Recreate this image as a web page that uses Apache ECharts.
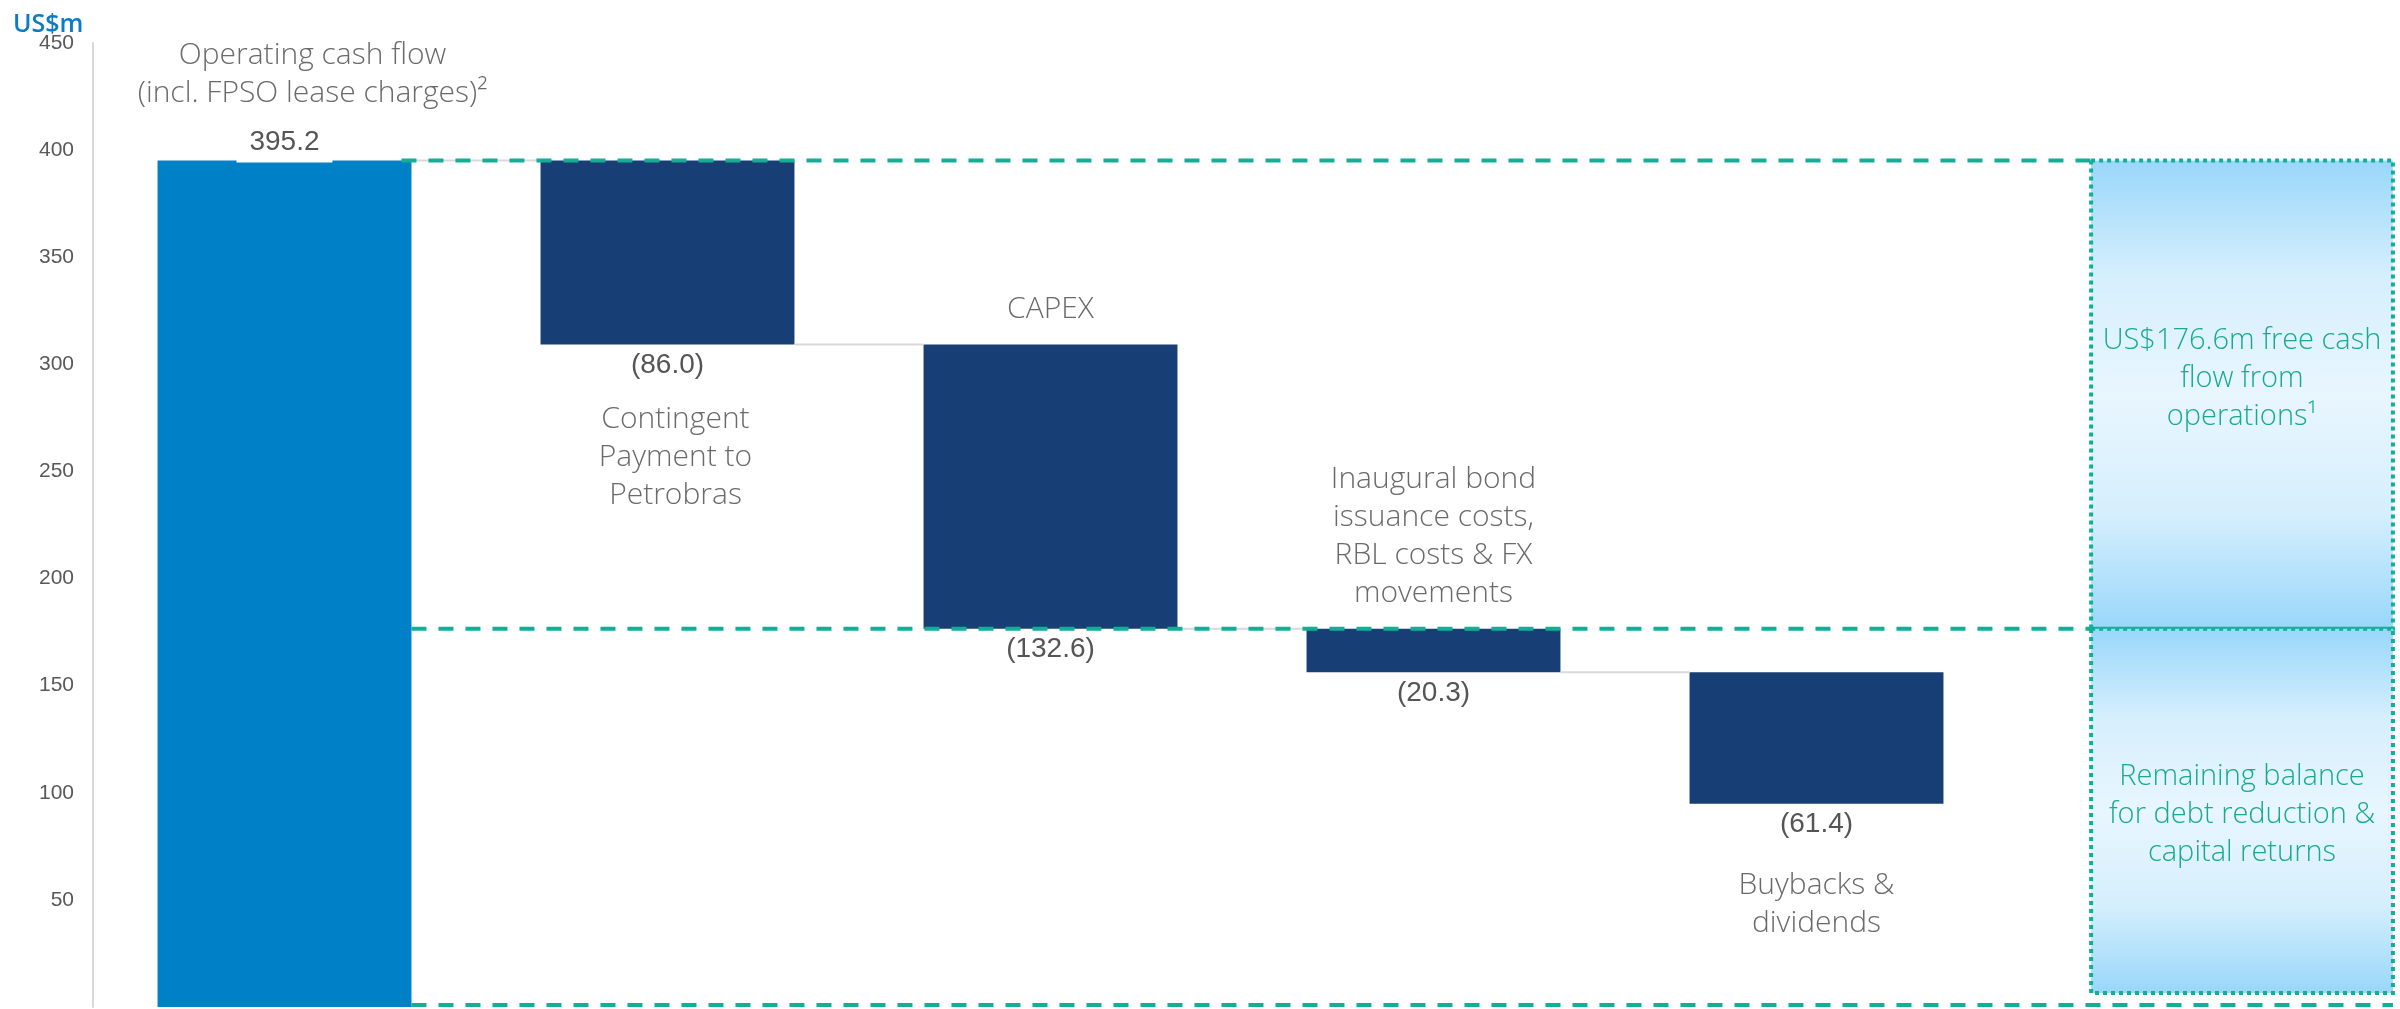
<!DOCTYPE html>
<html>
<head>
<meta charset="utf-8">
<script src="https://cdn.jsdelivr.net/npm/echarts@6/dist/echarts.min.js"></script>
<style>
html,body{margin:0;padding:0;background:#fff;}
#chart{width:2400px;height:1009px;}
</style>
</head>
<body>
<div id="chart"></div>
<script>
// ---- data ----
const categories = [
  'Operating cash flow\n(incl. FPSO lease charges)²',
  'Contingent\nPayment to\nPetrobras',
  'CAPEX',
  'Inaugural bond\nissuance costs,\nRBL costs & FX\nmovements',
  'Buybacks &\ndividends'
];
const changes = [395.2, -86.0, -132.6, -20.3, -61.4];
const freeCashFlow = 176.6;
const boxTexts = [
  'US$' + freeCashFlow.toFixed(1) + 'm free cash\nflow from\noperations¹',
  'Remaining balance\nfor debt reduction &\ncapital returns'
];
const yMin = 0, yMax = 450, yStep = 50;
const unitLabel = 'US$m';
// category label side: 'above' or 'below' the bar
const labelSide = ['above', 'below', 'above', 'above', 'below'];

// ---- derived waterfall ----
const bases = [], heights = [], ends = [];
let run = 0;
changes.forEach(v => {
  const start = run;
  run += v;
  bases.push(Math.min(start, run));
  heights.push(Math.abs(v));
  ends.push(run);
});
const valueText = v => v >= 0 ? v.toFixed(1) : '(' + Math.abs(v).toFixed(1) + ')';

// ---- styles ----
const BAR_FRAC = 0.663;
const C_FIRST = '#0080C6';
const C_BAR = '#173E75';
const C_TEAL = '#12AE96';
const C_TEXT_TEAL = '#19A990';
const C_GREY_LINE = '#d9d9d9';
const C_CAT = '#6a6a6a';
const C_VAL = '#555555';
const CAT_FONT = '"Open Sans", Lato, sans-serif';
const VAL_FONT = '"Liberation Sans", Arial, sans-serif';
const BELOW_GAP = [56, 56, 56, 56, 63];
const LABEL_DX = [28, 8, 0, 0, 0];

const chart = echarts.init(document.getElementById('chart'), null, {renderer: 'canvas'});

function renderOverlay(params, api) {
  const n = changes.length;
  const slot = api.size([1, 0])[0];
  const half = slot * BAR_FRAC / 2;
  const cx = i => api.coord([i, 0])[0];
  const cy = v => api.coord([0, v])[1];
  const kids = [];

  // grey connectors between bars
  for (let i = 0; i < n - 1; i++) {
    kids.push({
      type: 'line', z2: 1,
      shape: {x1: cx(i) + half, y1: cy(ends[i]), x2: cx(i + 1) - half, y2: cy(ends[i])},
      style: {stroke: C_GREY_LINE, lineWidth: 2}
    });
  }

  // box on the right
  const bx0 = cx(n) - slot * 0.283;
  const bx1 = cx(n) + slot * 0.505;
  const yTop = cy(ends[0]);
  const yMid = cy(freeCashFlow);
  const yBot = cy(yMin) - 14;
  const grad = () => new echarts.graphic.LinearGradient(0, 0, 0, 1, [
    {offset: 0, color: '#98D6FA'},
    {offset: 0.25, color: '#D6EFFD'},
    {offset: 0.5, color: '#E8F6FE'},
    {offset: 0.75, color: '#D6EFFD'},
    {offset: 1, color: '#98D6FA'}
  ]);
  [[yTop, yMid], [yMid, yBot]].forEach(([a, b], k) => {
    kids.push({
      type: 'rect', z2: 2,
      shape: {x: bx0, y: a, width: bx1 - bx0, height: b - a},
      style: {fill: grad(), stroke: C_TEAL, lineWidth: 4, lineDash: [4, 4]}
    });
    kids.push({
      type: 'text', z2: 5,
      style: {
        text: boxTexts[k],
        x: (bx0 + bx1) / 2,
        y: (a + b) / 2 + (k === 0 ? -16 : 4),
        align: 'center', verticalAlign: 'middle',
        fill: C_TEXT_TEAL, fontSize: 29, lineHeight: 38, fontFamily: CAT_FONT, fontWeight: 300
      }
    });
  });

  // teal dashed guide lines
  const dashStyle = {stroke: C_TEAL, lineWidth: 4, lineDash: [15, 12]};
  const lx0 = cx(0) + half - 10;
  kids.push({type: 'line', z2: 4, shape: {x1: lx0, y1: yTop, x2: bx0, y2: yTop}, style: dashStyle});
  kids.push({type: 'line', z2: 4, shape: {x1: cx(0) + half, y1: yMid, x2: bx0, y2: yMid}, style: dashStyle});
  kids.push({type: 'line', z2: 4, shape: {x1: cx(0) + half, y1: cy(yMin) - 2, x2: bx1, y2: cy(yMin) - 2}, style: dashStyle});

  // value & category labels
  for (let i = 0; i < n; i++) {
    const x = cx(i);
    const top = cy(bases[i] + heights[i]);
    const bot = cy(bases[i]);
    const positive = changes[i] >= 0;
    // value label
    if (positive) {
      kids.push({
        type: 'rect', z2: 6,
        shape: {x: x - 48, y: top - 36, width: 96, height: 38},
        style: {fill: '#ffffff'}
      });
      kids.push({
        type: 'text', z2: 7,
        style: {text: valueText(changes[i]), x: x, y: top - 4, align: 'center', verticalAlign: 'bottom',
          fill: C_VAL, fontSize: 28, fontFamily: VAL_FONT}
      });
    } else {
      kids.push({
        type: 'text', z2: 7,
        style: {text: valueText(changes[i]), x: x, y: bot + 7, align: 'center', verticalAlign: 'top',
          fill: C_VAL, fontSize: 28, fontFamily: VAL_FONT}
      });
    }
    // category label
    if (labelSide[i] === 'above') {
      const gap = positive ? 48 : 16;
      kids.push({
        type: 'text', z2: 7,
        style: {text: categories[i], x: x + LABEL_DX[i], y: top - gap, align: 'center', verticalAlign: 'bottom',
          fill: C_CAT, fontSize: 30, lineHeight: 38, fontFamily: CAT_FONT, fontWeight: 300}
      });
    } else {
      kids.push({
        type: 'text', z2: 7,
        style: {text: categories[i], x: x + LABEL_DX[i], y: bot + BELOW_GAP[i], align: 'center', verticalAlign: 'top',
          fill: C_CAT, fontSize: 30, lineHeight: 38, fontFamily: CAT_FONT, fontWeight: 300}
      });
    }
  }
  return {type: 'group', children: kids};
}

const option = {
  backgroundColor: '#ffffff',
  animation: false,
  title: {
    text: unitLabel, left: 8, top: 7,
    textStyle: {color: '#0A7DC5', fontSize: 25, fontWeight: 600, fontFamily: CAT_FONT}
  },
  grid: {left: 93, right: 9, top: 43, bottom: 2, containLabel: false},
  xAxis: {
    type: 'category',
    data: categories.concat(['']),
    axisLine: {show: false}, axisTick: {show: false}, axisLabel: {show: false}, splitLine: {show: false}
  },
  yAxis: {
    type: 'value', min: yMin, max: yMax, interval: yStep,
    axisLine: {show: true, lineStyle: {color: C_GREY_LINE, width: 2}},
    axisTick: {show: false},
    splitLine: {show: false},
    axisLabel: {showMinLabel: false, color: '#595959', fontSize: 21, fontFamily: VAL_FONT, margin: 19}
  },
  series: [
    {
      type: 'bar', stack: 'w', barWidth: (BAR_FRAC * 100) + '%',
      data: bases, itemStyle: {color: 'transparent'}, silent: true, z: 2
    },
    {
      type: 'bar', stack: 'w', barWidth: (BAR_FRAC * 100) + '%',
      data: heights.map((h, i) => ({value: h, itemStyle: {color: i === 0 ? C_FIRST : C_BAR}})),
      z: 2
    },
    {
      type: 'custom', data: [0], renderItem: renderOverlay, z: 5, clip: false, silent: true
    }
  ]
};
chart.setOption(option);
</script>
</body>
</html>
